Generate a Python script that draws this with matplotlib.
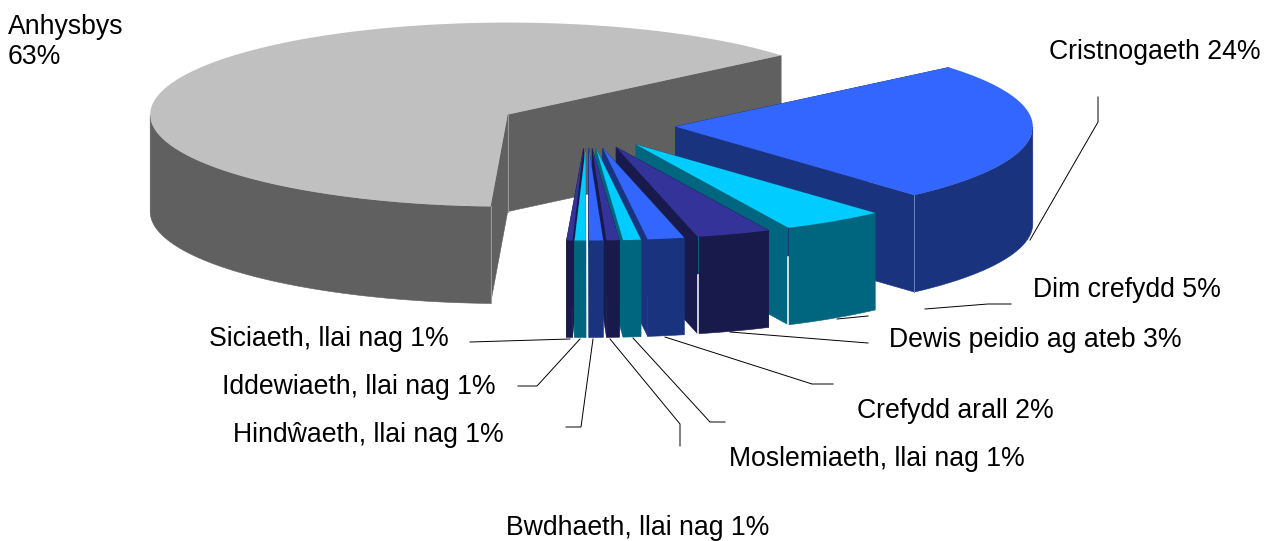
import numpy as np
import matplotlib
matplotlib.use("Agg")
import matplotlib.pyplot as plt

plt.rcParams['font.family'] = ['Liberation Sans', 'DejaVu Sans']

# slices, clockwise from the top-right of the pie
names = ["Cristnogaeth", "Dim crefydd", "Dewis peidio ag ateb", "Crefydd arall", "Moslemiaeth",
         "Bwdhaeth", "Hindŵaeth", "Iddewiaeth", "Siciaeth", "Anhysbys"]
values = [24.48, 4.65, 3.35, 1.65, 0.8, 0.57, 0.63, 0.5, 0.27, 63.1]
top_colors = ["#3366FF", "#00CCFF", "#333399", "#3366FF", "#00CCFF",
              "#333399", "#3366FF", "#00CCFF", "#333399", "#C0C0C0"]
side_colors = ["#19337F", "#00667F", "#191A4C", "#19337F", "#00667F",
               "#191A4C", "#19337F", "#00667F", "#191A4C", "#606060"]
# line down the corner where the cut face meets the rim (None = no line)
edge_colors = ["#6F83B5", "#19337F", "#00667F", None, None, None, None, None, None, "#9A9A9A"]
# how far down that line goes before it turns into a white gap
edge_stop = [1.0, 0.3, 0.39, 1.0, 1.0, 1.0, 1.0, 1.0, 1.0, 1.0]

label_text = ["Anhysbys\n63%", "Cristnogaeth 24%", "Dim crefydd 5%", "Dewis peidio ag ateb 3%",
              "Crefydd arall 2%", "Moslemiaeth, llai nag 1%", "Bwdhaeth, llai nag 1%",
              "Hindŵaeth, llai nag 1%", "Iddewiaeth, llai nag 1%", "Siciaeth, llai nag 1%"]
label_x = [8, 1049, 1033, 889, 857, 729, 506, 233, 222, 209]
label_y = [64, 59, 297, 347, 418, 466, 535, 442, 394, 346]

leaders = [
    ([1098, 1098, 1030], [97, 122, 240]),
    ([1011, 988, 925], [304, 304, 309]),
    ([868, 837], [316, 319]),
    ([868, 730], [343, 332]),
    ([833, 812, 665], [384, 384, 337]),
    ([725, 710, 633], [422, 422, 338]),
    ([680, 680, 610], [446, 424, 339]),
    ([566, 581, 593], [427, 427, 339]),
    ([518, 537, 580], [386, 386, 339]),
    ([470, 570], [342, 339]),
]

cx, cy = 587, 125        # pie centre before exploding
rx, ry = 357.5, 92
ex, ey = 88.5, 23.5      # explode distance
depth = 97
start = 40.1


def draw_slice(ax, a1, a2, top, side, edge, stop):
    # a1 > a2, degrees, clockwise sweep
    mid = np.radians((a1 + a2) / 2)
    ox = cx + ex * np.cos(mid)
    oy = cy - ey * np.sin(mid)
    t = np.radians(np.linspace(a1, a2, 200))
    x = ox + rx * np.cos(t)
    y = oy - ry * np.sin(t)

    # outer wall, only the part facing the viewer
    front = np.sin(t) <= 0
    if front.any():
        fx, fy = x[front], y[front]
        ax.fill(np.r_[fx, fx[::-1]], np.r_[fy, fy[::-1] + depth], color=side, lw=0.4)

    # the two cut faces
    for px, py in ((x[0], y[0]), (x[-1], y[-1])):
        ax.fill([ox, px, px, ox], [oy, py, py + depth, oy + depth], color=side, lw=0.4)

    if edge:
        # corner on the near side of the pie
        k = 0 if np.sin(t[0]) < np.sin(t[-1]) else -1
        ax.plot([x[k], x[k]], [y[k], y[k] + depth * stop], color=edge, lw=0.7)
        if stop < 1:
            ax.plot([x[k], x[k]], [y[k] + depth * stop, y[k] + depth], color="white", lw=1.1)
        if a1 - a2 > 180:
            ax.plot([ox, ox], [oy, oy + depth], color=edge, lw=0.7)

    ax.fill(np.r_[ox, x], np.r_[oy, y], color=top, lw=0)


fig = plt.figure(figsize=(12.65, 5.41), dpi=100)
ax = fig.add_axes([0, 0, 1, 1])
ax.set_xlim(0, 1265)
ax.set_ylim(541, 0)
ax.axis("off")

angles = start - np.r_[0, np.cumsum(values)] * 3.6

# back to front, the slices nearest the middle go last
order = [9, 0, 1, 2, 3, 4, 5, 8, 7, 6]
for i in order:
    draw_slice(ax, angles[i], angles[i + 1], top_colors[i], side_colors[i], edge_colors[i], edge_stop[i])

for lx, ly in leaders:
    ax.plot(lx, ly, color="black", lw=0.7, solid_joinstyle="miter")

for s, tx, ty in zip(label_text, label_x, label_y):
    ax.text(tx, ty, s, fontsize=19.2, color="black", ha="left", va="baseline", linespacing=1.2)

fig.savefig("out.png", dpi=100, facecolor="white")
plt.close()
